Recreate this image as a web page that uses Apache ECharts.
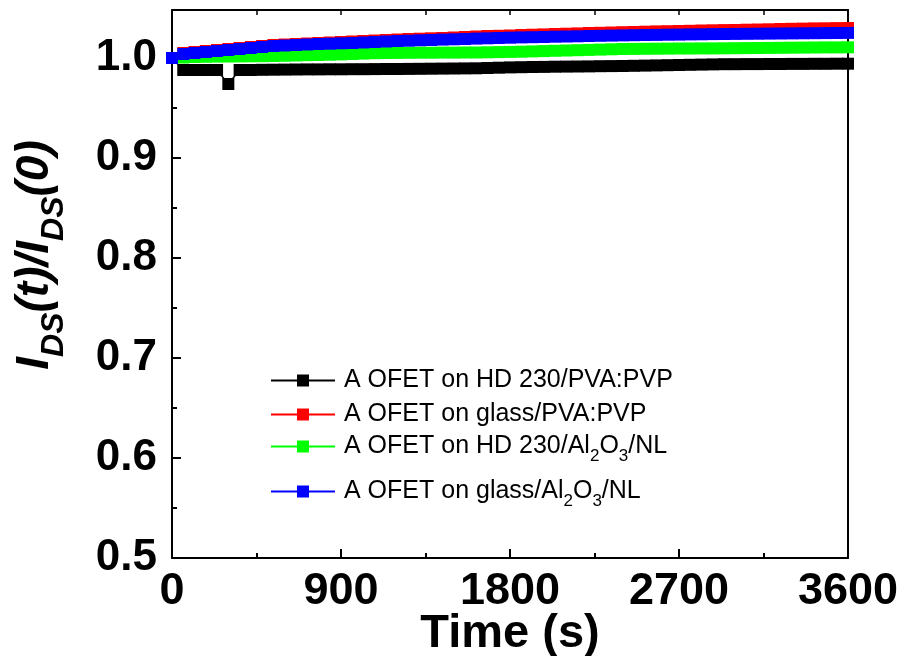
<!DOCTYPE html>
<html>
<head>
<meta charset="utf-8">
<script src="https://cdn.jsdelivr.net/npm/echarts@6/dist/echarts.min.js"></script>
<style>
html,body{margin:0;padding:0;background:#fff;}
#chart{width:904px;height:656px;}
</style>
</head>
<body>
<div id="chart"></div>
<script>
// Time (s)
var times = [0,60,120,180,240,300,360,420,480,540,600,660,720,780,840,900,960,1020,1080,1140,1200,1260,1320,1380,1440,1500,1560,1620,1680,1740,1800,1860,1920,1980,2040,2100,2160,2220,2280,2340,2400,2460,2520,2580,2640,2700,2760,2820,2880,2940,3000,3060,3120,3180,3240,3300,3360,3420,3480,3540,3600];

// A OFET on HD 230/PVA:PVP (black)
var hdPva = [1.000,0.988,0.988,0.988,0.988,0.974,0.988,0.988,0.9882,0.9883,0.9884,0.9885,0.9886,0.9886,0.9887,0.9887,0.9888,0.9888,0.9889,0.989,0.989,0.9891,0.9892,0.9893,0.9894,0.9895,0.9896,0.9897,0.990,0.9903,0.9906,0.9908,0.991,0.9911,0.9913,0.9914,0.9915,0.9916,0.9918,0.9919,0.992,0.9922,0.9924,0.9926,0.9928,0.993,0.9932,0.9934,0.9936,0.9938,0.9938,0.9939,0.9939,0.994,0.994,0.9941,0.9941,0.9942,0.9942,0.9943,0.9943];

// A OFET on glass/PVA:PVP (red)
var glassPva = [1.000,1.005,1.006,1.007,1.008,1.009,1.010,1.011,1.012,1.013,1.0135,1.014,1.0145,1.015,1.0155,1.016,1.0165,1.017,1.0175,1.018,1.0185,1.019,1.0193,1.0197,1.020,1.0205,1.021,1.0215,1.022,1.0222,1.0225,1.023,1.0233,1.0236,1.024,1.0243,1.0246,1.025,1.0252,1.0255,1.0258,1.026,1.0263,1.0266,1.0268,1.027,1.0272,1.0275,1.0277,1.0279,1.028,1.0283,1.0285,1.0287,1.029,1.0292,1.0294,1.0296,1.0297,1.0299,1.030];

// A OFET on HD 230/Al2O3/NL (green)
var hdAl = [1.000,1.0005,1.001,1.0012,1.0014,1.0015,1.0016,1.0017,1.0018,1.002,1.0022,1.0025,1.0028,1.003,1.0033,1.0036,1.004,1.0044,1.0048,1.005,1.0051,1.0052,1.0053,1.0053,1.0054,1.0054,1.0055,1.0055,1.0057,1.0059,1.0061,1.0063,1.0066,1.0069,1.0072,1.0075,1.0078,1.0081,1.0084,1.0087,1.009,1.0091,1.0092,1.0093,1.0094,1.0095,1.0095,1.0096,1.0096,1.0097,1.0098,1.0099,1.010,1.0101,1.0102,1.0103,1.0104,1.0105,1.0106,1.0106,1.0107];

// A OFET on glass/Al2O3/NL (blue)
var glassAl = [1.000,1.004,1.005,1.006,1.007,1.008,1.009,1.010,1.011,1.012,1.0125,1.013,1.0135,1.014,1.0143,1.0147,1.015,1.0155,1.016,1.0165,1.017,1.0173,1.0177,1.018,1.0184,1.0187,1.019,1.0194,1.0197,1.020,1.0203,1.0206,1.0208,1.021,1.0213,1.0215,1.0217,1.022,1.0222,1.0224,1.0226,1.0228,1.023,1.0231,1.0233,1.0234,1.0236,1.0237,1.0239,1.024,1.0241,1.0242,1.0243,1.0244,1.0245,1.0246,1.0247,1.0248,1.0249,1.025,1.0251];

var seriesNames = ['A OFET on HD 230/PVA:PVP','A OFET on glass/PVA:PVP','A OFET on HD 230/Al2O3/NL','A OFET on glass/Al2O3/NL'];
var legendRich = [
  '{f|A OFET on HD 230/PVA:PVP}',
  '{f|A OFET on glass/PVA:PVP}',
  '{f|A OFET on HD 230/Al}{s|2}{n|O}{s|3}{n|/NL}',
  '{f|A OFET on glass/Al}{s|2}{n|O}{s|3}{n|/NL}'
];
var seriesColors = ['#000000','#ff0000','#00ff00','#0000ff'];
var xTicks = [0,900,1800,2700,3600];
var yTickLabels = ['0.5','0.6','0.7','0.8','0.9','1.0'];

var FONT = '"Liberation Sans", Arial, Helvetica, sans-serif';
function pairs(arr){ return times.map(function(t,i){ return [t, arr[i]]; }); }
var allData = [hdPva, glassPva, hdAl, glassAl];

var legendTops = [368, 402, 434, 479];
var legends = seriesNames.map(function(n, i){
  return {
    data: [n], left: 270, top: legendTops[i], padding: 0, orient: 'vertical',
    itemWidth: 64, itemHeight: 15, selectedMode: false,
    lineStyle: {width: 2},
    formatter: function(){ return legendRich[i]; },
    textStyle: {
      fontFamily: FONT, fontSize: 25, color: '#000',
      rich: {
        f: {fontFamily: FONT, fontSize: 25, color: '#000', verticalAlign: 'top', padding: [14,0,14,4]},
        n: {fontFamily: FONT, fontSize: 25, color: '#000', verticalAlign: 'top', padding: [14,0,14,0]},
        s: {fontFamily: FONT, fontSize: 17, color: '#000', verticalAlign: 'top', padding: [28,0,0,0]}
      }
    }
  };
});

var chart = echarts.init(document.getElementById('chart'), null, {renderer: 'canvas'});
chart.setOption({
  animation: false,
  backgroundColor: '#fff',
  textStyle: {fontFamily: FONT},
  grid: {left: 172, right: 56, top: 10, bottom: 98, containLabel: false, outerBoundsMode: 'none'},
  legend: legends,
  xAxis: [{
    type: 'value', min: 0, max: 3600, interval: 900, position: 'bottom',
    name: 'Time (s)', nameLocation: 'middle', nameGap: 53, nameMoveOverlap: false,
    nameTextStyle: {fontFamily: FONT, fontSize: 47, fontWeight: 'bold', color: '#000'},
    axisLine: {show: true, onZero: false, lineStyle: {color: '#000', width: 2}},
    axisTick: {show: true, inside: true, length: 9, lineStyle: {color: '#000', width: 2}},
    minorTick: {show: true, splitNumber: 2, length: 5, lineStyle: {color: '#000', width: 2}},
    axisLabel: {fontFamily: FONT, fontSize: 45, fontWeight: 'bold', color: '#000', margin: 11,
      formatter: function(v){ return xTicks.indexOf(v) >= 0 ? String(v) : ''; }},
    splitLine: {show: false}
  }, {
    type: 'value', min: 0, max: 3600, interval: 900, position: 'top',
    axisLine: {show: true, onZero: false, lineStyle: {color: '#000', width: 2}},
    axisTick: {show: true, inside: true, length: 5, lineStyle: {color: '#000', width: 1.5}},
    minorTick: {show: true, splitNumber: 2, length: 5, lineStyle: {color: '#000', width: 1.5}},
    axisLabel: {show: false}, splitLine: {show: false}
  }],
  yAxis: [{
    type: 'value', min: 0.5, max: 1.048, interval: 0.1, position: 'left',
    name: '{m|I}{s|DS}{m|(t)/I}{s|DS}{m|(0)}', nameLocation: 'middle', nameRotate: 90, nameGap: 102, nameMoveOverlap: false,
    nameTextStyle: {
      fontFamily: FONT, fontSize: 46, fontWeight: 'bold', fontStyle: 'italic', color: '#000',
      padding: [0,0,0,58],
      rich: {
        m: {fontFamily: FONT, fontSize: 46, fontWeight: 'bold', fontStyle: 'italic', color: '#000', verticalAlign: 'top'},
        s: {fontFamily: FONT, fontSize: 32, fontWeight: 'bold', fontStyle: 'italic', color: '#000', verticalAlign: 'top', padding: [26,0,0,0]}
      }
    },
    axisLine: {show: true, onZero: false, lineStyle: {color: '#000', width: 2}},
    axisTick: {show: true, inside: true, length: 9, lineStyle: {color: '#000', width: 2}},
    axisLabel: {fontFamily: FONT, fontSize: 44, fontWeight: 'bold', color: '#000', margin: 15, showMaxLabel: false,
      formatter: function(v){ var s = v.toFixed(1); return yTickLabels.indexOf(s) >= 0 && Math.abs(v - parseFloat(s)) < 1e-6 ? s : ''; }},
    splitLine: {show: false}
  }, {
    type: 'value', min: 0.5, max: 1.048, interval: 0.05, position: 'left',
    axisLine: {show: false},
    axisTick: {show: true, inside: true, length: 5, lineStyle: {color: '#000', width: 2}},
    axisLabel: {show: false}, splitLine: {show: false}
  }, {
    type: 'value', min: 0.5, max: 1.048, position: 'right',
    axisLine: {show: true, onZero: false, lineStyle: {color: '#000', width: 2}},
    axisTick: {show: false}, axisLabel: {show: false}, splitLine: {show: false}
  }],
  series: seriesNames.map(function(n, i){
    return {
      name: n, type: 'line', xAxisIndex: 0, yAxisIndex: 0,
      data: pairs(allData[i]),
      symbol: 'rect', symbolSize: 12, showAllSymbol: true,
      lineStyle: {color: seriesColors[i], width: 1.5},
      itemStyle: {color: seriesColors[i]},
      z: 2 + i
    };
  })
});
</script>
</body>
</html>
